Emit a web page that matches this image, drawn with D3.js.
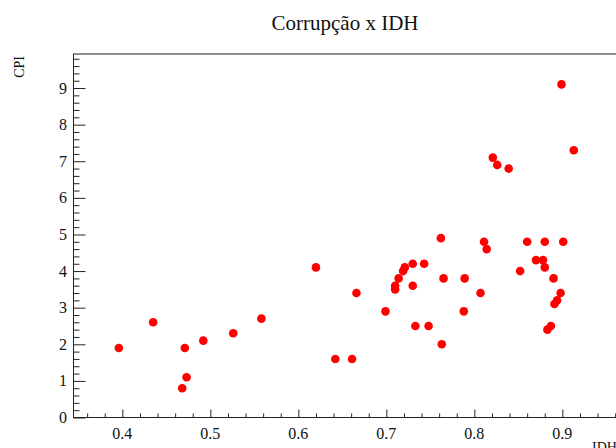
<!DOCTYPE html>
<html>
<head>
<meta charset="utf-8">
<script src="https://cdn.jsdelivr.net/npm/d3@7"></script>
<style>
  body { margin: 0; background: white; }
  text { font-family: "Liberation Serif", "DejaVu Serif", serif; fill: #111; }
</style>
</head>
<body>
<div id="chart"></div>
<script>
let w = 616;
let h = 448;

// IDH (x) and CPI (y)
let idh = [0.396, 0.435, 0.468, 0.471, 0.473, 0.492, 0.526, 0.558, 0.620, 0.642,
           0.661, 0.666, 0.699, 0.710, 0.710, 0.714, 0.719, 0.721, 0.730, 0.730,
           0.733, 0.743, 0.748, 0.762, 0.763, 0.765, 0.788, 0.789, 0.807, 0.811,
           0.814, 0.821, 0.826, 0.839, 0.852, 0.860, 0.870, 0.878, 0.880, 0.880,
           0.883, 0.887, 0.890, 0.891, 0.894, 0.898, 0.899, 0.901, 0.913];
let cpi = [1.9, 2.6, 0.8, 1.9, 1.1, 2.1, 2.3, 2.7, 4.1, 1.6,
           1.6, 3.4, 2.9, 3.5, 3.6, 3.8, 4.0, 4.1, 4.2, 3.6,
           2.5, 4.2, 2.5, 4.9, 2.0, 3.8, 2.9, 3.8, 3.4, 4.8,
           4.6, 7.1, 6.9, 6.8, 4.0, 4.8, 4.3, 4.3, 4.8, 4.1,
           2.4, 2.5, 3.8, 3.1, 3.2, 3.4, 9.1, 4.8, 7.3];

let xTicks = [0.4, 0.5, 0.6, 0.7, 0.8, 0.9];
let yTicks = [0, 1, 2, 3, 4, 5, 6, 7, 8, 9];

let data = idh.map((d, i) => ({x: d, y: cpi[i]}));

let viz = d3.select("#chart")
  .append("svg")
  .attr("width", w)
  .attr("height", h)
  .style("background-color", "white");

// frame limits like ROOT: 10% padding around the data, y clipped at 0
let xScale = d3.scaleLinear().domain([0.3445, 0.9655]).range([73.5, 620]);
let yScale = d3.scaleLinear().domain([0, 9.93]).range([417.5, 54]);

// frame
viz.append("rect")
  .attr("x", xScale(0.3445))
  .attr("y", yScale(9.93))
  .attr("width", xScale(0.9655) - xScale(0.3445))
  .attr("height", yScale(0) - yScale(9.93))
  .attr("fill", "none")
  .attr("stroke", "#222")
  .attr("stroke-width", 1);

// x axis, ticks inside the frame
let xMinor = d3.range(0.36, 0.965, 0.02).filter(v => Math.abs(v * 10 - Math.round(v * 10)) > 0.01);
let xAxisGroup = viz.append("g").attr("transform", "translate(0," + yScale(0) + ")");
xAxisGroup.call(d3.axisTop(xScale).tickValues(xMinor).tickSize(4).tickFormat(""));
let xMajorGroup = viz.append("g").attr("transform", "translate(0," + yScale(0) + ")");
xMajorGroup.call(d3.axisTop(xScale).tickValues(xTicks).tickSize(8).tickFormat(""));
xAxisGroup.selectAll(".domain").remove();
xMajorGroup.selectAll(".domain").remove();

viz.selectAll(".xlabel").data(xTicks).enter()
  .append("text")
  .attr("class", "xlabel")
  .attr("x", d => xScale(d))
  .attr("y", 439)
  .attr("text-anchor", "middle")
  .attr("font-size", 16)
  .text(d => d3.format(".1f")(d));

// y axis, ticks inside the frame
let yMinor = d3.range(0.2, 9.93, 0.2).filter(v => Math.abs(v - Math.round(v)) > 0.01);
let yAxisGroup = viz.append("g").attr("transform", "translate(" + xScale(0.3445) + ",0)");
yAxisGroup.call(d3.axisRight(yScale).tickValues(yMinor).tickSize(6).tickFormat(""));
let yMajorGroup = viz.append("g").attr("transform", "translate(" + xScale(0.3445) + ",0)");
yMajorGroup.call(d3.axisRight(yScale).tickValues(yTicks).tickSize(12).tickFormat(""));
yAxisGroup.selectAll(".domain").remove();
yMajorGroup.selectAll(".domain").remove();

viz.selectAll(".ylabel").data(yTicks).enter()
  .append("text")
  .attr("class", "ylabel")
  .attr("x", 67)
  .attr("y", d => yScale(d) + 5.5)
  .attr("text-anchor", "end")
  .attr("font-size", 16)
  .text(d => d);

viz.selectAll(".tick line").attr("stroke", "#222");

// points
viz.selectAll(".datapoint").data(data).enter()
  .append("circle")
  .attr("class", "datapoint")
  .attr("cx", d => xScale(d.x))
  .attr("cy", d => yScale(d.y))
  .attr("r", 4.3)
  .attr("fill", "#ff0000");

// titles
viz.append("text")
  .attr("x", 345)
  .attr("y", 30)
  .attr("text-anchor", "middle")
  .attr("font-size", 21)
  .text("Corrupção x IDH");

viz.append("text")
  .attr("transform", "translate(24,56) rotate(-90)")
  .attr("text-anchor", "end")
  .attr("font-size", 14)
  .text("CPI");

viz.append("text")
  .attr("x", 592)
  .attr("y", 452)
  .attr("font-size", 14)
  .text("IDH");
</script>
</body>
</html>
